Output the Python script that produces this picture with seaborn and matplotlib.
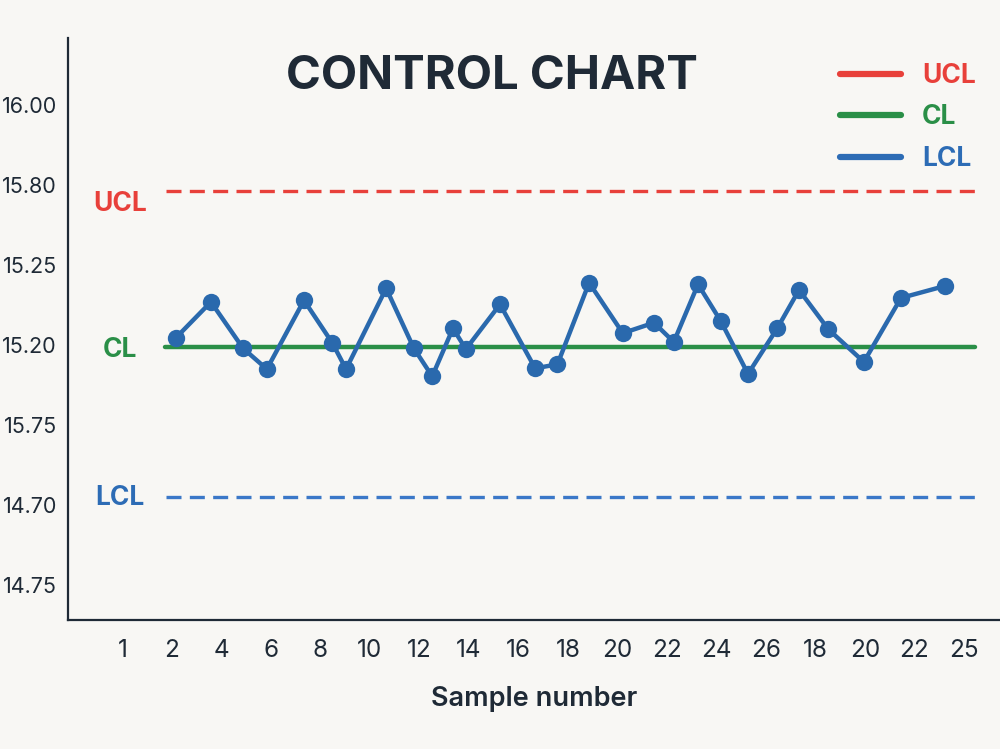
import matplotlib
matplotlib.use("Agg")
import matplotlib.pyplot as plt
from matplotlib.lines import Line2D
import seaborn as sns
import pandas as pd

# tick labels as printed on the chart (positions are just slot numbers)
x_tick_labels = ["1", "2", "4", "6", "8", "10", "12", "14", "16", "18",
                 "20", "22", "24", "26", "18", "20", "22", "25"]
y_tick_labels = ["14.75", "14.70", "15.75", "15.20", "15.25", "15.80", "16.00"]

# sample positions (in tick slots) and measured values (in tick units)
sample_x = [1.08, 1.79, 2.44, 2.92, 3.67, 4.24, 4.52, 5.33, 5.89, 6.26,
            6.68, 6.94, 7.63, 8.34, 8.79, 9.43, 10.11, 10.74, 11.14, 11.63,
            12.09, 12.64, 13.23, 13.67, 14.26, 14.98, 15.73, 16.62]
sample_y = [3.09, 3.54, 2.96, 2.70, 3.56, 3.03, 2.70, 3.71, 2.96, 2.61,
            3.21, 2.95, 3.51, 2.71, 2.76, 3.78, 3.15, 3.28, 3.04, 3.76,
            3.30, 2.64, 3.21, 3.69, 3.20, 2.79, 3.59, 3.74]

ucl, cl, lcl = 4.925, 2.975, 1.10
limit_start, limit_end = 0.88, 17.23

red = "#e8403a"
green = "#2a8f47"
blue = "#2d6cb5"
point_blue = "#2a69ad"
ink = "#1f2a36"
bg = "#f8f7f4"

sns.set_style("white")
plt.rcParams['font.family'] = ['Inter', 'DejaVu Sans']

df = pd.DataFrame({"sample": sample_x, "value": sample_y})

fig = plt.figure(figsize=(10, 7.49), dpi=100, facecolor=bg)
ax = fig.add_axes([0.068, 0.1722, 0.932, 0.777])
ax.set_facecolor(bg)

# limit lines
ax.plot([limit_start, limit_end], [ucl, ucl], color=red, lw=2.4,
        ls=(0, (4.5, 2.5)))
ax.plot([limit_start - 0.02, limit_end], [cl, cl], color=green, lw=3.2,
        solid_capstyle="round")
ax.plot([limit_start, limit_end], [lcl, lcl], color="#3b78c8", lw=2.4,
        ls=(0, (4.5, 2.5)))

sns.lineplot(data=df, x="sample", y="value", ax=ax, color=point_blue,
             linewidth=3.2, marker="o", markersize=12.5, markeredgewidth=0,
             sort=False)

# side labels
ax.text(-0.05, ucl - 0.16, "UCL", color=red, fontsize=19, fontweight="bold",
        ha="center", va="center")
ax.text(-0.05, cl - 0.04, "CL", color=green, fontsize=19, fontweight="bold",
        ha="center", va="center")
ax.text(-0.05, lcl - 0.01, "LCL", color=blue, fontsize=19, fontweight="bold",
        ha="center", va="center")

ax.set_xlim(-1.097, 17.73)
ax.set_ylim(-0.4375, 6.84)
ax.set_xticks(range(len(x_tick_labels)))
ax.set_xticklabels(x_tick_labels)
ax.set_yticks(range(len(y_tick_labels)))
ax.set_yticklabels(y_tick_labels)
ax.tick_params(axis="x", length=6, width=1.5, color=ink, labelsize=17.5,
               labelcolor=ink, pad=8)
ax.tick_params(axis="y", length=6, width=1.5, color=ink, labelsize=15.5,
               labelcolor=ink, pad=2)

sns.despine(ax=ax)
for side in ["left", "bottom"]:
    ax.spines[side].set_color(ink)
    ax.spines[side].set_linewidth(1.6)

ax.set_xlabel("Sample number", fontsize=19.5, fontweight="semibold",
              color=ink, labelpad=17)
ax.set_ylabel("")

fig.text(0.492, 1 - 77 / 749, "CONTROL CHART", fontsize=34,
         fontweight="bold", color=ink, ha="center", va="center")

handles = [Line2D([], [], color=red, lw=4.5, solid_capstyle="round"),
           Line2D([], [], color=green, lw=4.5, solid_capstyle="round"),
           Line2D([], [], color=blue, lw=4.5, solid_capstyle="round")]
ax.legend(handles, ["UCL", "CL", "LCL"], loc="upper left",
          bbox_to_anchor=(0.827, 1 - 50 / 749), bbox_transform=fig.transFigure,
          frameon=False, labelcolor=[red, green, blue],
          prop={"size": 19, "weight": "bold"}, handlelength=2.3,
          handletextpad=0.8, labelspacing=0.58, borderpad=0)

fig.savefig("out.png", dpi=100, facecolor=bg)
